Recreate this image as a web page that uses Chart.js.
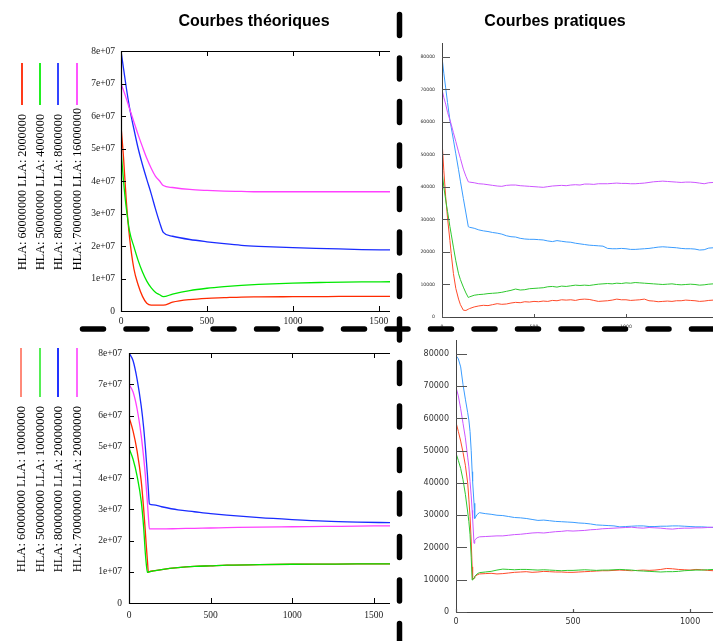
<!DOCTYPE html>
<html>
<head>
<meta charset="utf-8">
<script src="https://cdn.jsdelivr.net/npm/chart.js@4.4.1/dist/chart.umd.min.js"></script>
<style>
  html,body{margin:0;padding:0;background:#fff;}
  #wrap{position:relative;width:713px;height:641px;overflow:hidden;background:#fff;}
  #wrap canvas{position:absolute;left:0;top:0;}
  .title{position:absolute;top:12px;font-family:"Liberation Sans",Arial,sans-serif;font-weight:bold;font-size:16px;line-height:18px;color:#000;white-space:nowrap;transform:translateX(-50%);}
  .leg{position:absolute;width:14px;margin-left:-7px;writing-mode:vertical-rl;transform:rotate(180deg);font-family:"Liberation Serif","Times New Roman",serif;line-height:14px;color:#000;white-space:nowrap;}
  .legline{position:absolute;width:1.6px;margin-left:-0.8px;}
  svg{position:absolute;left:0;top:0;pointer-events:none;}
</style>
</head>
<body>
<div id="wrap">
  <canvas id="c1" width="713" height="641"></canvas>
  <canvas id="c2" width="713" height="641"></canvas>
  <canvas id="c3" width="713" height="641"></canvas>
  <canvas id="c4" width="713" height="641"></canvas>
  <div class="title" style="left:254px">Courbes théoriques</div>
  <div class="title" style="left:555px">Courbes pratiques</div>
  <div id="legends"></div>
  <svg width="713" height="641">
    <line x1="399.5" y1="14.5" x2="399.5" y2="660" stroke="#000" stroke-width="5.5" stroke-linecap="round" stroke-dasharray="21 22.5"/>
    <line x1="82.5" y1="329" x2="740" y2="329" stroke="#000" stroke-width="5.5" stroke-linecap="round" stroke-dasharray="21 22.5"/>
  </svg>
</div>
<script>
// ---------------- DATA ----------------
// Legend labels
const legendTop = ['HLA: 60000000 LLA: 2000000','HLA: 50000000 LLA: 4000000','HLA: 80000000 LLA: 8000000','HLA: 70000000 LLA: 16000000'];
const legendBottom = ['HLA: 60000000 LLA: 10000000','HLA: 50000000 LLA: 10000000','HLA: 80000000 LLA: 20000000','HLA: 70000000 LLA: 20000000'];

// Tick values / labels
const theoXTicks = [0,500,1000,1500];
const theoYTicks = [0,1e7,2e7,3e7,4e7,5e7,6e7,7e7,8e7];
const theoYTickLabels = ['0','1e+07','2e+07','3e+07','4e+07','5e+07','6e+07','7e+07','8e+07'];
const pracXTicks = [0,500,1000];
const pracYTicks = [0,10000,20000,30000,40000,50000,60000,70000,80000];

// Top-left: theoretical, set 1
const tlX = [0,15,30,50,75,100,125,150,175,200,225,246,300,400,500,600,700,800,1000,1200,1400,1565];
const tlRed = [5.7e7,4.7e7,3.45e7,2.25e7,1.3e7,0.8e7,0.45e7,0.24e7,0.18e7,0.18e7,0.18e7,0.18e7,0.27e7,0.35e7,0.39e7,0.41e7,0.43e7,0.435e7,0.44e7,0.445e7,0.45e7,0.45e7];
const tlGreen = [4.95e7,3.98e7,3.2e7,2.45e7,1.98e7,1.55e7,1.2e7,0.92e7,0.72e7,0.58e7,0.5e7,0.44e7,0.52e7,0.63e7,0.7e7,0.75e7,0.79e7,0.82e7,0.86e7,0.88e7,0.895e7,0.9e7];
const tlBlue = [8.0e7,7.45e7,6.9e7,6.25e7,5.6e7,5.0e7,4.5e7,4.05e7,3.62e7,3.15e7,2.72e7,2.42e7,2.3e7,2.2e7,2.13e7,2.07e7,2.02e7,1.99e7,1.95e7,1.92e7,1.89e7,1.88e7];
const tlMagenta = [7.0e7,6.78e7,6.55e7,6.22e7,5.82e7,5.42e7,5.05e7,4.7e7,4.4e7,4.15e7,4.0e7,3.86e7,3.8e7,3.74e7,3.71e7,3.69e7,3.68e7,3.67e7,3.67e7,3.67e7,3.67e7,3.67e7];

// Bottom-left: theoretical, set 2
const blX = [0,25,50,75,90,100,105,113,119,125,150,200,300,400,500,600,800,1000,1200,1400,1600];
const blRed = [5.95e7,5.5e7,4.85e7,3.9e7,3.0e7,2.3e7,1.9e7,1.35e7,0.98e7,1.0e7,1.03e7,1.07e7,1.13e7,1.17e7,1.19e7,1.21e7,1.23e7,1.24e7,1.245e7,1.25e7,1.25e7];
const blGreen = [4.95e7,4.6e7,4.05e7,3.25e7,2.4e7,1.6e7,1.3e7,0.98e7,0.99e7,1.0e7,1.03e7,1.07e7,1.13e7,1.17e7,1.19e7,1.21e7,1.23e7,1.24e7,1.245e7,1.25e7,1.25e7];
const blBlue = [8.0e7,7.75e7,7.15e7,6.3e7,5.6e7,5.0e7,4.65e7,4.1e7,3.6e7,3.17e7,3.14e7,3.08e7,2.98e7,2.92e7,2.86e7,2.81e7,2.73e7,2.67e7,2.62e7,2.59e7,2.57e7];
const blMagenta = [7.0e7,6.75e7,6.2e7,5.35e7,4.65e7,4.1e7,3.75e7,3.2e7,2.75e7,2.37e7,2.37e7,2.37e7,2.38e7,2.39e7,2.4e7,2.41e7,2.43e7,2.44e7,2.45e7,2.46e7,2.47e7];

// Top-right: practical, set 1
const trX = [0,2,10,20,30,43,50,62,75,90,100,116,130,143,150,175,200,225,250,275,300,325,350,375,400,425,450,475,500,525,550,575,600,625,650,675,700,725,750,775,800,825,850,875,900,925,950,975,1000,1025,1050,1075,1100,1125,1150,1175,1200,1225,1250,1275,1300,1325,1350,1375,1400,1425,1450,1475];
const trRed = [29000,52500,45000,37000,30500,23500,19500,13400,8800,5500,3800,2100,2000,2400,2600,3100,3400,3600,3500,3800,4100,3900,4000,4300,4500,4400,4700,4600,4800,4700,4900,4800,5100,5000,5300,5200,5300,5100,5400,5500,5400,5100,4800,4900,5000,5200,5500,5300,5300,5100,5200,5300,5500,5000,4900,4700,4800,4900,4800,5000,5000,5200,5100,5000,4800,4900,5100,5200];
const trGreen = [47000,44000,40000,36000,32500,27800,25500,21500,17300,13300,11500,9200,7400,6000,6200,6700,6900,7000,7200,7300,7400,7600,7900,8200,8600,8300,8400,8700,8800,8900,9000,9300,9400,9200,9500,9400,9600,9800,9700,9800,9700,9900,10100,10200,10300,10200,10400,10300,10500,10400,10600,10500,10400,10300,10200,10100,10000,10100,10200,10000,9900,10000,10100,10000,9800,9900,10100,10200];
const trBlue = [35000,79000,75000,70500,66000,60600,58400,54500,50200,45300,41800,36500,32000,27800,27600,27300,26800,26500,26300,26000,25800,25500,25000,24700,24600,24200,24000,23900,23900,23800,23700,23400,23200,23500,23300,23100,23000,22700,22500,22300,22100,22000,21900,21800,21100,21000,21000,21100,21000,20800,20800,20900,21000,21100,21300,21500,21600,21500,21400,21300,21100,21000,21000,20900,20600,20700,21200,21300];
const trMagenta = [40000,69500,67500,65500,63000,60600,59300,56700,54000,50800,48800,45500,43300,41600,41500,41300,41000,40900,40700,40500,40300,40200,40500,40600,40600,40400,40300,40200,40100,40000,39900,40100,40300,40400,40500,40400,40600,40700,40600,40900,40900,40800,41000,41000,41000,41100,41200,41100,41100,41000,41000,41100,41200,41400,41600,41700,41800,41700,41600,41500,41400,41500,41500,41400,41200,41000,41300,41400];

// Bottom-right: practical, set 2
const brX = [0,10,20,30,40,50,55,60,65,69,71,77,80,90,100,125,150,175,200,225,250,275,300,325,350,375,400,425,450,475,500,525,550,575,600,625,650,675,700,725,750,775,800,825,850,875,900,925,950,975,1000,1025,1050,1075,1100];
const brRed = [58800,56000,53000,49500,45500,40000,35000,29600,22000,14000,10000,10500,11000,11500,11800,11900,12000,11800,11900,12100,12300,12400,12500,12300,12400,12600,12500,12400,12400,12300,12300,12400,12500,12600,12700,12800,12800,12900,13000,12900,12800,12900,13000,12900,13000,13200,13500,13400,13200,13100,13000,13200,13100,12900,12800];
const brGreen = [49200,47000,44500,41000,36500,31000,28000,24000,17000,9900,10000,10600,11000,11800,12200,12400,12600,13000,13300,13200,13100,13200,13200,13100,13000,13100,13000,12900,12800,12900,12900,13000,13100,13000,12900,13000,13000,13100,13200,13100,13000,12800,12700,12600,12500,12400,12500,12500,12600,12800,12900,13000,13000,13100,13200];
const brBlue = [79500,78500,76000,70500,66000,61800,59500,56000,50000,43500,40500,33700,29000,30200,30800,30500,30300,30000,29900,29600,29300,29200,29000,28700,28400,28500,28300,28100,28000,27900,27800,27600,27500,27300,27000,26900,26800,26700,26400,26500,26600,26700,26700,26500,26500,26600,26600,26700,26700,26600,26500,26400,26400,26300,26200];
const brMagenta = [69700,67000,63000,58500,54000,48000,45000,40500,36000,31500,29000,21300,22300,23000,23300,23400,23500,23600,23600,23800,24000,24100,24300,24500,24600,24500,24700,24900,25000,25200,25100,25200,25300,25500,25600,25800,25900,26000,26100,26200,26300,26100,26000,26200,26100,26000,25800,25700,25900,26000,26000,26100,26100,26200,26300];

// ---------------- STYLE ----------------
const theoColors = ['#ff2a00','#00e800','#1a2cff','#ff40ff'];
const pracColors = ['#ff4a2a','#2ec82e','#3a9cff','#cc55ff'];
const legTopColors = ['#ff3a1a','#22ee22','#3344ff','#ff55ff'];
const legBotColors = ['#ff8a7a','#55ee55','#2233ff','#ff66ff'];

function mk(xs, ys){ return xs.map((x,i)=>({x:x, y:ys[i]})); }

const framePlugin = {
  id:'frame',
  afterDatasetsDraw(chart, args, o){
    const ctx = chart.ctx, a = chart.chartArea, xs = chart.scales.x, ys = chart.scales.y;
    ctx.save();
    ctx.strokeStyle = o.color; ctx.lineWidth = o.width;
    ctx.beginPath();
    ctx.moveTo(a.left+0.5, a.top); ctx.lineTo(a.left+0.5, a.bottom+0.5); ctx.lineTo(a.right, a.bottom+0.5);
    if (o.top){ ctx.moveTo(a.left, a.top+0.5); ctx.lineTo(a.right, a.top+0.5); }
    ctx.stroke();
    ctx.strokeStyle = o.tickColor; ctx.lineWidth = o.tickWidth;
    ctx.beginPath();
    ys.ticks.forEach(t=>{ const p = Math.round(ys.getPixelForValue(t.value))+0.5; ctx.moveTo(a.left, p); ctx.lineTo(a.left+o.yLen, p); });
    xs.ticks.forEach(t=>{ const p = Math.round(xs.getPixelForValue(t.value))+0.5; ctx.moveTo(p, a.bottom); ctx.lineTo(p, a.bottom-o.xLen);
      if (o.top){ ctx.moveTo(p, a.top); ctx.lineTo(p, a.top+o.xLen); } });
    ctx.stroke();
    ctx.restore();
  }
};

function makeChart(id, cfg){
  const ds = cfg.series.map((s,i)=>({
    data: mk(cfg.xs, s), borderColor: cfg.colors[i], borderWidth: cfg.lw, pointRadius:0, order:-i,
    fill:false, tension:0, cubicInterpolationMode: cfg.smooth ? 'monotone' : 'default'
  }));
  return new Chart(document.getElementById(id), {
    type:'line',
    data:{datasets: ds},
    plugins:[framePlugin],
    options:{
      responsive:false, animation:false, events:[],
      layout:{padding:{top:cfg.top, right:713-cfg.right, left:0, bottom:0}},
      plugins:{legend:{display:false}, tooltip:{enabled:false},
        frame:{color:cfg.axisColor, width:cfg.axisWidth, top:cfg.frameTop, tickColor:cfg.tickColor, tickWidth:cfg.tickWidth, yLen:cfg.yLen, xLen:cfg.xLen}},
      scales:{
        x:{type:'linear', min:0, max:cfg.xmax, grid:{display:false, drawTicks:false}, border:{display:false},
           afterBuildTicks(s){ s.ticks = cfg.xticks.map(v=>({value:v})); },
           afterFit(s){ s.height = 641-cfg.bottom; },
           ticks:{maxRotation:0, autoSkip:false, padding:cfg.xpad, color:cfg.labelColor,
                  font:{family:cfg.font, size:cfg.fontSize}, callback: v => String(v)}},
        y:{type:'linear', min:0, max:cfg.ymax, grid:{display:false, drawTicks:false}, border:{display:false},
           afterBuildTicks(s){ s.ticks = cfg.yticks.map(v=>({value:v})); },
           afterFit(s){ s.width = cfg.left; },
           ticks:{autoSkip:false, padding:cfg.ypad, color:cfg.labelColor,
                  font:{family:cfg.font, size:cfg.fontSize}, callback: cfg.yfmt}}
      }
    }
  });
}

const theoFmt = v => theoYTickLabels[theoYTicks.indexOf(v)];
const plainFmt = v => String(v);
const serif = "'Liberation Serif','Times New Roman',serif";
const sans = "'DejaVu Sans',Verdana,sans-serif";

makeChart('c1', {xs:tlX, series:[tlRed,tlGreen,tlBlue,tlMagenta], colors:theoColors, lw:1.3, smooth:true,
  left:121, top:51, bottom:311, right:390, xmax:1565, ymax:8e7, xticks:theoXTicks, yticks:theoYTicks, yfmt:theoFmt,
  font:serif, fontSize:9.5, labelColor:'#222', xpad:5, ypad:6,
  axisColor:'#000', axisWidth:1.2, frameTop:true, tickColor:'#000', tickWidth:1, yLen:5, xLen:5});

makeChart('c3', {xs:blX, series:[blRed,blGreen,blBlue,blMagenta], colors:theoColors, lw:1.3, smooth:true,
  left:129, top:353, bottom:603, right:390, xmax:1600, ymax:8e7, xticks:theoXTicks, yticks:theoYTicks, yfmt:theoFmt,
  font:serif, fontSize:9.5, labelColor:'#222', xpad:7, ypad:7,
  axisColor:'#000', axisWidth:1.2, frameTop:true, tickColor:'#000', tickWidth:1, yLen:5, xLen:5});

makeChart('c2', {xs:trX, series:[trRed,trGreen,trBlue,trMagenta], colors:pracColors, lw:1, smooth:false,
  left:442, top:43, bottom:317, right:713, xmax:1473, ymax:84300, xticks:pracXTicks, yticks:pracYTicks, yfmt:plainFmt,
  font:sans, fontSize:4.6, labelColor:'#333', xpad:7, ypad:7,
  axisColor:'#444', axisWidth:1, frameTop:false, tickColor:'#555', tickWidth:1, yLen:8, xLen:3});

makeChart('c4', {xs:brX, series:[brRed,brGreen,brBlue,brMagenta], colors:pracColors, lw:1, smooth:false,
  left:456, top:340, bottom:612, right:713, xmax:1098, ymax:84340, xticks:pracXTicks, yticks:pracYTicks, yfmt:plainFmt,
  font:sans, fontSize:8, labelColor:'#333', xpad:5, ypad:7,
  axisColor:'#444', axisWidth:1, frameTop:false, tickColor:'#555', tickWidth:1.2, yLen:11, xLen:3});

// ---------------- LEGENDS ----------------
const legWrap = document.getElementById('legends');
function addLegend(labels, colors, cxs, lineTop, lineBottom, textBottom, fontSize){
  labels.forEach((txt,i)=>{
    const l = document.createElement('div');
    l.className='legline';
    l.style.left = cxs[i]+'px'; l.style.top = lineTop+'px'; l.style.height=(lineBottom-lineTop)+'px';
    l.style.background = colors[i];
    legWrap.appendChild(l);
    const t = document.createElement('div');
    t.className='leg';
    t.style.left = cxs[i]+'px'; t.style.bottom = (641-textBottom)+'px'; t.style.fontSize = fontSize+'px';
    t.textContent = txt;
    legWrap.appendChild(t);
  });
}
addLegend(legendTop, legTopColors, [22,40,58,77], 63, 105, 270, 12.2);
addLegend(legendBottom, legBotColors, [21,40,58,77], 348, 397, 572, 12.5);
</script>
</body>
</html>
